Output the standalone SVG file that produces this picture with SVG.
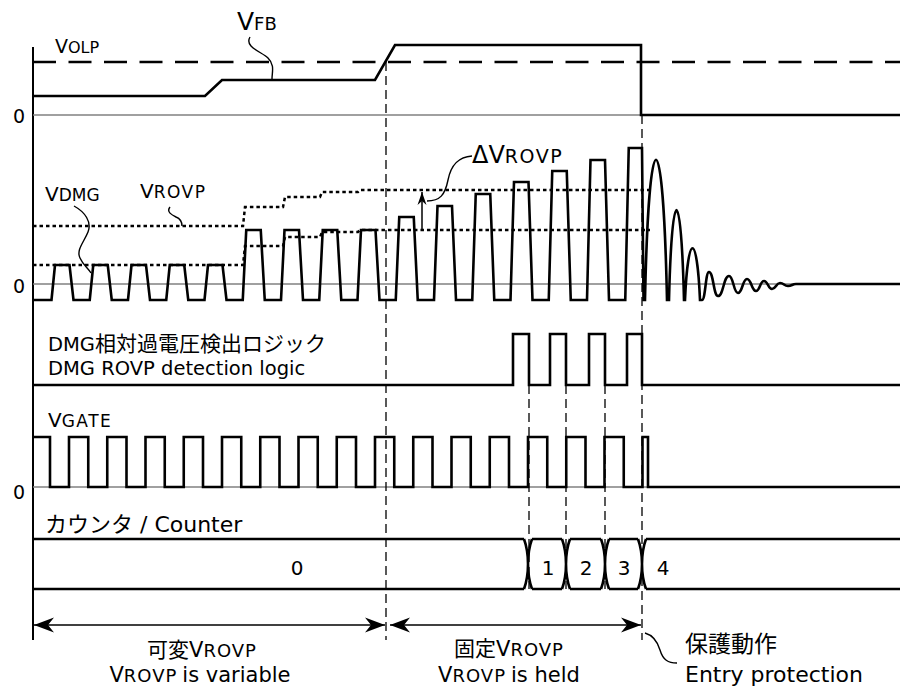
<svg xmlns="http://www.w3.org/2000/svg" width="900" height="692" viewBox="0 0 900 692">
<style>
text{font-family:'DejaVu Sans','Noto Sans CJK JP',sans-serif;fill:#000}
.w{fill:none;stroke:#000;stroke-width:2.6;stroke-linejoin:miter}
.zero{fill:none;stroke:#808080;stroke-width:1.3}
.dot{fill:none;stroke:#000;stroke-width:2.5;stroke-dasharray:3.5 3}
.vd{fill:none;stroke:#000;stroke-width:1.3;stroke-dasharray:9 5}
.ld{fill:none;stroke:#000;stroke-width:1.4}
.dim{fill:none;stroke:#000;stroke-width:1.5}
</style>
<defs>
<marker id="ah" viewBox="-22 -10 24 20" refX="0" refY="0" markerWidth="24" markerHeight="20" markerUnits="userSpaceOnUse" orient="auto-start-reverse">
<path d="M0,0 L-20,-7.5 L-14,0 L-20,7.5 Z" fill="#000"/>
</marker>
<marker id="sah" viewBox="-14 -6 16 12" refX="0" refY="0" markerWidth="16" markerHeight="12" markerUnits="userSpaceOnUse" orient="auto">
<path d="M0,0 L-13,-4.5 L-9,0 L-13,4.5 Z" fill="#000"/>
</marker>
</defs>
<rect width="900" height="692" fill="#fff"/>

<g id="axis">
<line x1="33" y1="47" x2="33" y2="640" stroke="#000" stroke-width="2"/>
<text x="13" y="123" font-size="19">0</text>
<text x="13" y="293" font-size="19">0</text>
<text x="13" y="499" font-size="19">0</text>
</g>

<g id="vfb-panel">
<line class="zero" x1="33" y1="115" x2="641" y2="115"/>
<line x1="33" y1="62" x2="900" y2="62" stroke="#000" stroke-width="2.6" stroke-dasharray="23 12.5"/>
<path class="w" d="M33,96 H205 L222,80 H375 L395,45 H641 V115 H900"/>
<text x="55" y="53" font-size="19">V<tspan font-size="16">OLP</tspan></text>
<text x="237" y="30" font-size="25">V<tspan font-size="18">FB</tspan></text>
<path class="ld" d="M250,37 C244,47 262,52 268,58 C275,65 272,72 272,79"/>
</g>

<g id="vdmg-panel">
<line class="zero" x1="33" y1="284" x2="800" y2="284"/>
<path class="dot" d="M33,226 H243 L245,207 H283 L285,197 H320 L322,192 H358 L360,190 H650"/>
<path class="dot" d="M33,265 H243 L245,246 H283 L285,237 H320 L322,232 H358 L360,230 H650"/>
<path class="w" d="M33,300 L51.5,300 L55,265 L69.5,265 L73.5,300 L89.75,300 L93.25,265 L107.75,265 L111.75,300 L128,300 L131.5,265 L146,265 L150,300 L166.25,300 L169.75,265 L184.25,265 L188.25,300 L204.5,300 L208,265 L222.5,265 L226.5,300 L242.75,300 L246.25,230 L260.75,230 L264.75,300 L281,300 L284.5,230 L299,230 L303,300 L319.25,300 L322.75,230 L337.25,230 L341.25,300 L357.5,300 L361,230 L375.5,230 L379.5,300 L395.75,300 L399.25,217 L413.75,217 L417.75,300 L434,300 L437.5,206 L452,206 L456,300 L472.25,300 L475.75,194 L490.25,194 L494.25,300 L510.5,300 L514,182 L528.5,182 L532.5,300 L548.75,300 L552.25,171 L566.75,171 L570.75,300 L587,300 L590.5,160 L605,160 L609,300 L625.25,300 L628.75,148 L642,148 L643.5,300 L645,300 C649,113 663,113 667,300 L669,300 C672,180 681,180 684,300 L685,300 C688,231 697,231 700,300 L702,300 C705.5,300 705.5,272 709,272 C713.5,272 713.5,296 718,296 C723.5,296 723.5,276 729,276 C733.5,276 733.5,293 738,293 C742.5,293 742.5,279 747,279 C751.5,279 751.5,291 756,291 C760,291 760,281 764,281 C768,281 768,289 772,289 C776,289 776,283 780,283 C784,283 784,286 788,286 C792,286 792,284 796,284 L900,284"/>
<line class="dim" x1="422" y1="230" x2="422" y2="192" marker-end="url(#sah)"/>
<text x="45" y="201" font-size="20">V<tspan font-size="17">DMG</tspan></text>
<path class="ld" d="M74,206 C85,212 92,222 88,232 C84,242 76,250 80,258 C83,265 88,268 91,273"/>
<text x="140" y="198" font-size="20">V<tspan font-size="17" letter-spacing="1.5">ROVP</tspan></text>
<path class="ld" d="M170,207 C166,212 172,215 176,217 C181,219 182,222 182,226"/>
<text x="472" y="163" font-size="24">ΔV<tspan font-size="19" letter-spacing="1.5">ROVP</tspan></text>
<path class="ld" d="M427,201 C440,201 445,195 448,180 C451,165 458,157 472,156"/>
</g>

<g id="logic-panel">
<text x="48" y="351" font-size="19.5">DMG<tspan font-size="21">相対過電圧検出ロジック</tspan></text>
<text x="48" y="375" font-size="19.5">DMG ROVP detection logic</text>
<path class="w" d="M33,385 H513 V334 H529 V385 H550 V334 H566 V385 H589 V334 H605 V385 H627 V334 H642 V385 H900"/>
</g>

<g id="vgate-panel">
<line class="zero" x1="33" y1="487" x2="900" y2="487"/>
<text x="48" y="427" font-size="20">V<tspan font-size="17" letter-spacing="1.5">GATE</tspan></text>
<path class="w" d="M33,437 H50 V487 H69 V437 H88.25 V487 H107.25 V437 H126.5 V487 H145.5 V437 H164.75 V487 H183.75 V437 H203 V487 H222 V437 H241.25 V487 H260.25 V437 H279.5 V487 H298.5 V437 H317.75 V487 H336.75 V437 H356 V487 H375 V437 H394.25 V487 H413.25 V437 H432.5 V487 H451.5 V437 H470.75 V487 H489.75 V437 H509 V487 H528 V437 H547.25 V487 H566.25 V437 H585.5 V487 H604.5 V437 H623.75 V487 H642.5 V437 H648 V487 H900"/>
</g>

<g id="counter-panel">
<text x="45" y="532" font-size="22">カウンタ / Counter</text>
<path class="w" d="M33,539 H524 M532,539 H562 M570,539 H601 M609,539 H638 M646,539 H900 M33,589 H524 M532,589 H562 M570,589 H601 M609,589 H638 M646,589 H900"/>
<path class="w" d="M524,539 Q528,550 528,564 Q528,578 524,589 M532,539 Q528,550 528,564 Q528,578 532,589 M562,539 Q566,550 566,564 Q566,578 562,589 M570,539 Q566,550 566,564 Q566,578 570,589 M601,539 Q605,550 605,564 Q605,578 601,589 M609,539 Q605,550 605,564 Q605,578 609,589 M638,539 Q642,550 642,564 Q642,578 638,589 M646,539 Q642,550 642,564 Q642,578 646,589"/>
<text x="297" y="575" font-size="20" text-anchor="middle">0</text>
<text x="548" y="575" font-size="20" text-anchor="middle">1</text>
<text x="586" y="575" font-size="20" text-anchor="middle">2</text>
<text x="624" y="575" font-size="20" text-anchor="middle">3</text>
<text x="663" y="575" font-size="20" text-anchor="middle">4</text>
</g>

<g id="connectors">
<line class="vd" x1="386" y1="62" x2="386" y2="640"/>
<line class="vd" x1="642" y1="115" x2="642" y2="640"/>
<line class="vd" x1="529" y1="385" x2="529" y2="589"/>
<line class="vd" x1="566" y1="385" x2="566" y2="589"/>
<line class="vd" x1="605" y1="385" x2="605" y2="589"/>
<line class="dim" x1="34" y1="625" x2="385" y2="625" marker-start="url(#ah)" marker-end="url(#ah)"/>
<line class="dim" x1="390" y1="625" x2="641" y2="625" marker-start="url(#ah)" marker-end="url(#ah)"/>
<path class="ld" d="M645,633 C652,635 657,640 660,650 C663,660 668,663 677,663"/>
</g>

<g id="labels">
<text x="202" y="657" font-size="21" text-anchor="middle">可変V<tspan font-size="18" letter-spacing="1">ROVP</tspan></text>
<text x="200" y="682" font-size="21" text-anchor="middle">V<tspan font-size="18" letter-spacing="1">ROVP</tspan><tspan dx="5">is variable</tspan></text>
<text x="509" y="656" font-size="21" text-anchor="middle">固定V<tspan font-size="18" letter-spacing="1">ROVP</tspan></text>
<text x="509" y="682" font-size="21" text-anchor="middle">V<tspan font-size="18" letter-spacing="1">ROVP</tspan><tspan dx="5">is held</tspan></text>
<text x="685" y="652" font-size="23">保護動作</text>
<text x="685" y="682" font-size="22">Entry protection</text>
</g>
</svg>
